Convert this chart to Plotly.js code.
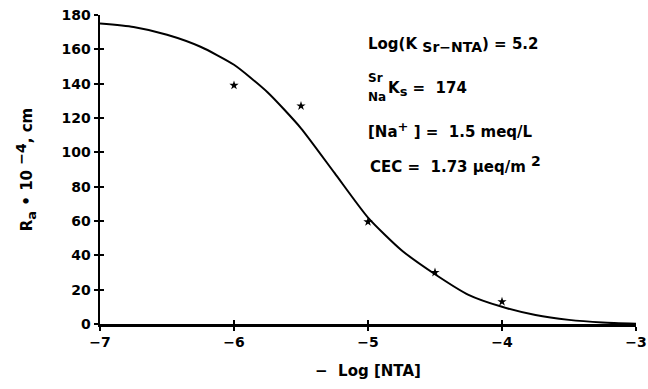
<!DOCTYPE html>
<html>
<head>
<meta charset="utf-8">
<script src="https://cdn.plot.ly/plotly-3.0.1.min.js"></script>
<style>html,body{margin:0;padding:0;background:#fff;}#chart{width:648px;height:389px;}</style>
</head>
<body>
<div id="chart"></div>
<script>
// Measured points (stars)
const obsX = [-6, -5.5, -5, -4.5, -4];
const obsY = [139, 127, 59.5, 30, 13];

// Model curve
const curveX = [-7, -6.75, -6.5, -6.25, -6.0, -5.75, -5.5, -5.25, -5.0, -4.75, -4.5, -4.25, -4.0, -3.75, -3.5, -3.25, -3.0];
const curveY = [175, 173, 168.5, 161.5, 151, 135, 114, 88, 62, 43, 29, 17, 10, 5.2, 2.4, 0.9, 0.2];

// Tick labels
const xTicks = [-7, -6, -5, -4, -3];
const yTicks = [0, 20, 40, 60, 80, 100, 120, 140, 160, 180];

const FONT = 'DejaVu Sans, Verdana, sans-serif';

const traces = [
  {x: curveX, y: curveY, mode: 'lines', line: {color: '#000', width: 2, shape: 'spline', smoothing: 0.6}, hoverinfo: 'skip'},
  {x: obsX, y: obsY, mode: 'markers', marker: {symbol: 'star', size: 7, color: '#000'}},
  {x: [-7], y: [0], xaxis: 'x2', yaxis: 'y2', mode: 'markers', marker: {opacity: 0}, hoverinfo: 'skip'}
];

const axBase = {linecolor: '#000', linewidth: 2.5, tickcolor: '#000', tickwidth: 2, showgrid: false, zeroline: false, mirror: false};
const tickFont = {size: 14, family: FONT, weight: 'bold', color: '#000'};
const txtFont = {size: 15, family: FONT, weight: 'bold', color: '#000'};
const smallFont = {size: 12, family: FONT, weight: 'bold', color: '#000'};

const layout = {
  width: 648, height: 389,
  margin: {l: 100, r: 12, t: 15, b: 65},
  paper_bgcolor: '#fff', plot_bgcolor: '#fff',
  showlegend: false,
  font: {family: FONT, color: '#000'},
  xaxis: Object.assign({}, axBase, {
    range: [-7, -3], tickvals: xTicks, ticks: 'outside', ticklen: 4,
    tickfont: tickFont,
    title: {text: '−  Log [NTA]', font: txtFont, standoff: 16}
  }),
  yaxis: Object.assign({}, axBase, {
    range: [0, 180], tickvals: yTicks, ticks: 'outside', ticklen: 4,
    tickfont: tickFont,
    title: {text: 'R<sub><span style="font-size:13px">a</span></sub> • 10 <sup><span style="font-size:14px">−4</span></sup>, cm', font: txtFont, standoff: 25}
  }),
  xaxis2: Object.assign({}, axBase, {range: [-7, -3], tickvals: xTicks, ticks: 'inside', ticklen: 4, showticklabels: false, overlaying: 'x', anchor: 'y2', showline: false}),
  yaxis2: Object.assign({}, axBase, {range: [0, 180], tickvals: yTicks, ticks: 'inside', ticklen: 4, showticklabels: false, overlaying: 'y', anchor: 'x2', showline: false}),
  annotations: [
    {xref: 'paper', yref: 'paper', x: 0.497, y: 0.903, xanchor: 'left', yanchor: 'middle', showarrow: false,
     text: 'Log(K <sub><span style="font-size:14px">Sr−NTA</span></sub>) = 5.2', font: txtFont},
    {xref: 'paper', yref: 'paper', x: 0.497, y: 0.795, xanchor: 'left', yanchor: 'middle', showarrow: false,
     text: 'Sr', font: smallFont},
    {xref: 'paper', yref: 'paper', x: 0.497, y: 0.735, xanchor: 'left', yanchor: 'middle', showarrow: false,
     text: 'Na', font: smallFont},
    {xref: 'paper', yref: 'paper', x: 0.533, y: 0.762, xanchor: 'left', yanchor: 'middle', showarrow: false,
     text: 'K<sub><span style="font-size:13px">s</span></sub> =  174', font: txtFont},
    {xref: 'paper', yref: 'paper', x: 0.497, y: 0.628, xanchor: 'left', yanchor: 'middle', showarrow: false,
     text: '[Na<sup><span style="font-size:13px">+</span></sup> ] =  1.5 meq/L', font: txtFont},
    {xref: 'paper', yref: 'paper', x: 0.500, y: 0.515, xanchor: 'left', yanchor: 'middle', showarrow: false,
     text: 'CEC =  1.73 μeq/m <sup><span style="font-size:14px">2</span></sup>', font: txtFont}
  ]
};

Plotly.newPlot('chart', traces, layout, {displayModeBar: false, staticPlot: true});
</script>
</body>
</html>
